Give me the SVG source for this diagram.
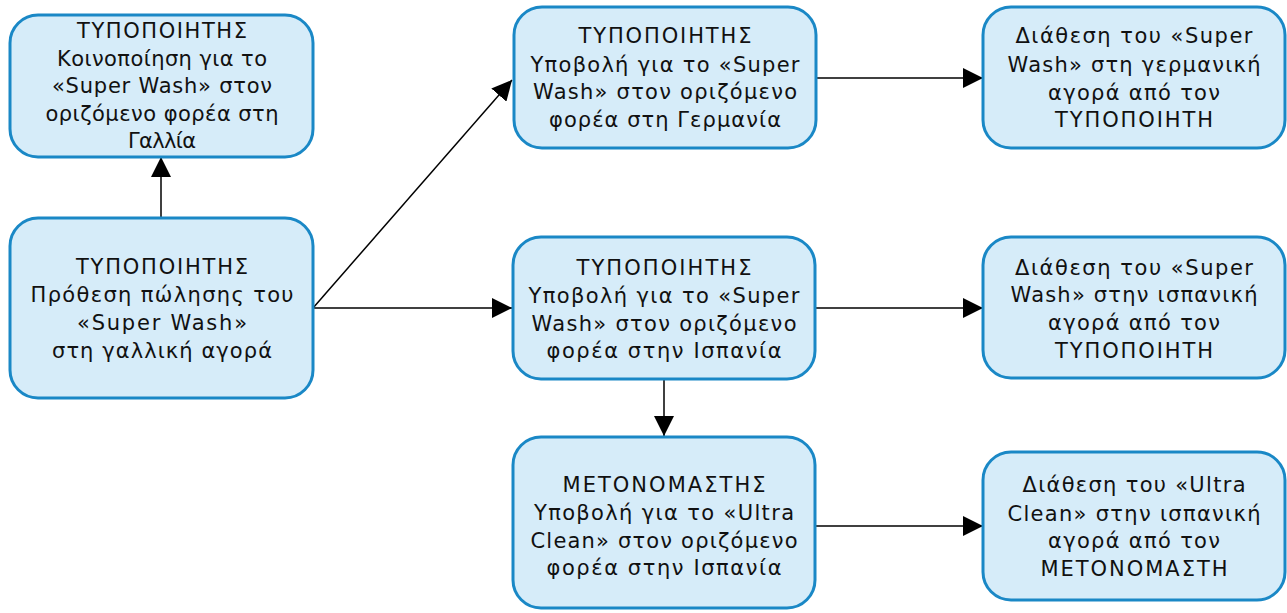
<svg xmlns="http://www.w3.org/2000/svg" width="1287" height="613" viewBox="0 0 1287 613">
  <style>
    .box { fill: #d6ecf9; stroke: #1a88c6; stroke-width: 3; }
    .lbl { font-family: "DejaVu Sans", Verdana, sans-serif; font-size: 21px; fill: #111111; text-anchor: middle; }
    .edge { stroke: #000000; stroke-width: 1.5; fill: none; marker-end: url(#arrow); }
  </style>
  <defs>
    <marker id="arrow" markerUnits="userSpaceOnUse" markerWidth="20" markerHeight="20" refX="20" refY="10" orient="auto">
      <path d="M0,0 L20,10 L0,20 z" fill="#000000"/>
    </marker>
  </defs>

  <rect width="1287" height="613" fill="#ffffff"/>

  <!-- connectors -->
  <g id="connectors">
    <line class="edge" x1="161" y1="218" x2="161" y2="157"/>
    <line class="edge" x1="313" y1="308" x2="512" y2="80"/>
    <line class="edge" x1="313" y1="308" x2="512" y2="308"/>
    <line class="edge" x1="815" y1="78" x2="983" y2="78"/>
    <line class="edge" x1="815" y1="308" x2="983" y2="308"/>
    <line class="edge" x1="664" y1="379" x2="664" y2="436"/>
    <line class="edge" x1="815" y1="526" x2="983" y2="526"/>
  </g>

  <!-- manufacturer notification, France -->
  <g id="node-notify-fr">
    <rect class="box" x="10" y="15" width="303" height="142" rx="28"/>
    <text class="lbl" x="162" y="38" textLength="170" lengthAdjust="spacing">ΤΥΠΟΠΟΙΗΤΗΣ</text>
    <text class="lbl" x="162" y="66" textLength="210" lengthAdjust="spacing">Κοινοποίηση για το</text>
    <text class="lbl" x="162" y="93" textLength="220" lengthAdjust="spacing">«Super Wash» στον</text>
    <text class="lbl" x="162" y="121" textLength="233" lengthAdjust="spacing">οριζόμενο φορέα στη</text>
    <text class="lbl" x="162" y="148" textLength="68" lengthAdjust="spacing">Γαλλία</text>
  </g>

  <!-- manufacturer intent, France -->
  <g id="node-intent-fr">
    <rect class="box" x="10" y="218" width="303" height="180" rx="28"/>
    <text class="lbl" x="162" y="274" textLength="172" lengthAdjust="spacing">ΤΥΠΟΠΟΙΗΤΗΣ</text>
    <text class="lbl" x="162" y="302" textLength="263" lengthAdjust="spacing">Πρόθεση πώλησης του</text>
    <text class="lbl" x="162" y="330" textLength="170" lengthAdjust="spacing">«Super Wash»</text>
    <text class="lbl" x="162" y="358" textLength="220" lengthAdjust="spacing">στη γαλλική αγορά</text>
  </g>

  <!-- manufacturer submission, Germany -->
  <g id="node-submit-de">
    <rect class="box" x="514" y="7" width="302" height="141" rx="28"/>
    <text class="lbl" x="665" y="43" textLength="173" lengthAdjust="spacing">ΤΥΠΟΠΟΙΗΤΗΣ</text>
    <text class="lbl" x="665" y="72" textLength="269" lengthAdjust="spacing">Υποβολή για το «Super</text>
    <text class="lbl" x="665" y="99" textLength="264" lengthAdjust="spacing">Wash» στον οριζόμενο</text>
    <text class="lbl" x="665" y="127" textLength="232" lengthAdjust="spacing">φορέα στη Γερμανία</text>
  </g>

  <!-- manufacturer submission, Spain -->
  <g id="node-submit-es">
    <rect class="box" x="513" y="237" width="302" height="142" rx="28"/>
    <text class="lbl" x="664" y="275" textLength="175" lengthAdjust="spacing">ΤΥΠΟΠΟΙΗΤΗΣ</text>
    <text class="lbl" x="664" y="303" textLength="271" lengthAdjust="spacing">Υποβολή για το «Super</text>
    <text class="lbl" x="664" y="331" textLength="265" lengthAdjust="spacing">Wash» στον οριζόμενο</text>
    <text class="lbl" x="664" y="358" textLength="235" lengthAdjust="spacing">φορέα στην Ισπανία</text>
  </g>

  <!-- renamer submission, Spain -->
  <g id="node-rename-es">
    <rect class="box" x="513" y="437" width="302" height="171" rx="28"/>
    <text class="lbl" x="664" y="492" textLength="203" lengthAdjust="spacing">ΜΕΤΟΝΟΜΑΣΤΗΣ</text>
    <text class="lbl" x="664" y="520" textLength="260" lengthAdjust="spacing">Υποβολή για το «Ultra</text>
    <text class="lbl" x="664" y="548" textLength="267" lengthAdjust="spacing">Clean» στον οριζόμενο</text>
    <text class="lbl" x="664" y="575" textLength="235" lengthAdjust="spacing">φορέα στην Ισπανία</text>
  </g>

  <!-- market placement, Germany -->
  <g id="node-market-de">
    <rect class="box" x="983" y="7" width="302" height="141" rx="28"/>
    <text class="lbl" x="1134" y="43" textLength="237" lengthAdjust="spacing">Διάθεση του «Super</text>
    <text class="lbl" x="1134" y="72" textLength="253" lengthAdjust="spacing">Wash» στη γερμανική</text>
    <text class="lbl" x="1134" y="100" textLength="172" lengthAdjust="spacing">αγορά από τον</text>
    <text class="lbl" x="1134" y="127" textLength="158" lengthAdjust="spacing">ΤΥΠΟΠΟΙΗΤΗ</text>
  </g>

  <!-- market placement, Spain -->
  <g id="node-market-es">
    <rect class="box" x="983" y="237" width="302" height="141" rx="28"/>
    <text class="lbl" x="1134" y="275" textLength="238" lengthAdjust="spacing">Διάθεση του «Super</text>
    <text class="lbl" x="1134" y="302" textLength="247" lengthAdjust="spacing">Wash» στην ισπανική</text>
    <text class="lbl" x="1134" y="330" textLength="172" lengthAdjust="spacing">αγορά από τον</text>
    <text class="lbl" x="1134" y="358" textLength="158" lengthAdjust="spacing">ΤΥΠΟΠΟΙΗΤΗ</text>
  </g>

  <!-- renamed product on Spanish market -->
  <g id="node-market-es-renamed">
    <rect class="box" x="983" y="452" width="302" height="148" rx="28"/>
    <text class="lbl" x="1134" y="492" textLength="223" lengthAdjust="spacing">Διάθεση του «Ultra</text>
    <text class="lbl" x="1134" y="521" textLength="253" lengthAdjust="spacing">Clean» στην ισπανική</text>
    <text class="lbl" x="1134" y="548" textLength="172" lengthAdjust="spacing">αγορά από τον</text>
    <text class="lbl" x="1134" y="576" textLength="187" lengthAdjust="spacing">ΜΕΤΟΝΟΜΑΣΤΗ</text>
  </g>
</svg>
